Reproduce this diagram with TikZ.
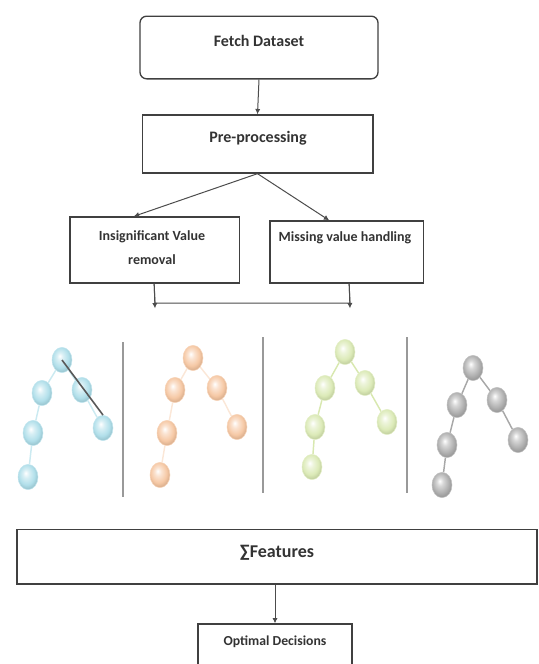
\documentclass[tikz,border=0pt]{standalone}
\usepackage{fontspec}
\setmainfont{Carlito}
\usetikzlibrary{arrows.meta,shapes.geometric,backgrounds}

\definecolor{ballblue}{HTML}{A9DCE8}
\definecolor{ballorange}{HTML}{F5C39C}
\definecolor{ballgreen}{HTML}{D8E8B0}
\definecolor{ballgray}{HTML}{A8A8A8}
\colorlet{ballc}{ballgray}
\pgfdeclareradialshading[ballc]{softball}{\pgfpoint{-6bp}{8bp}}{%
  color(0bp)=(white); color(8bp)=(ballc!45!white); color(20bp)=(ballc!90!white);
  color(30bp)=(ballc!85!black); color(50bp)=(ballc!80!black)}

\tikzset{every picture/.style={line width=0.75pt}}
\tikzset{
  box/.style={draw=black!75, line width=1pt, inner sep=0pt},
  boxtext/.style={inner sep=0.75pt, font=\bfseries\fontsize{12}{14}\selectfont, text=black!80, align=center},
  flow/.style={draw=black!70, -{Latex[length=4pt,width=4pt]}},
  ball/.style={ellipse, minimum width=15pt, minimum height=19pt, inner sep=0pt, draw=#1!70, line width=0.4pt,
    /utils/exec={\colorlet{ballc}{#1}}, shading=softball},
  twig/.style={draw=#1, line width=1.1pt},
  divider/.style={draw=black!40, line width=1.6pt}
}

\begin{document}
\begin{tikzpicture}[x=0.75pt,y=0.75pt,yscale=-1,xscale=1]
\useasboundingbox (0,0) rectangle (539,664);
\clip (0,0) rectangle (539,664);
%Rounded Rect: Fetch Dataset
\node [box, rounded corners=5pt, minimum width=178.5pt, minimum height=47pt] (fetch) at (259,47.5) {};
% Text Node
\node [boxtext] (fetchtxt) at (259,41) {Fetch Dataset};
%Shape: Rectangle Pre-processing
\node [box, minimum width=173pt, minimum height=43.5pt] (prep) at (257.5,144) {};
% Text Node
\node [boxtext] (preptxt) at (258,138) {Pre-processing};
%Shape: Rectangle Insignificant
\node [box, minimum width=127pt, minimum height=49.5pt] (insig) at (154.5,250) {};
% Text Node
\node [boxtext, font=\bfseries\fontsize{10.5}{18.5}\selectfont] (insigtxt) at (152,247.5) {Insignificant Value\\removal};
%Shape: Rectangle Missing
\node [box, minimum width=115pt, minimum height=46.5pt] (missing) at (346.5,252) {};
% Text Node
\node [boxtext, font=\bfseries\fontsize{10.5}{12}\selectfont] (missingtxt) at (345,238) {Missing value handling};
%Shape: Rectangle Features
\node [box, minimum width=390pt, minimum height=41pt] (features) at (277,556.5) {};
% Text Node
\node [boxtext, font=\bfseries\fontsize{13.5}{15}\selectfont] (featurestxt) at (277,553) {∑Features};
%Shape: Rectangle Optimal
\node [box, minimum width=115.5pt, minimum height=45pt] (optimal) at (275,654) {};
% Text Node
\node [boxtext, font=\bfseries\fontsize{10.3}{12}\selectfont] (optimaltxt) at (275,642) {Optimal Decisions};

%Join coordinates
\coordinate (jl) at (155,303);
\coordinate (jr) at (350,303);

%Straight Lines
\draw [flow] (fetch.south) -- (prep.north);
\draw [flow] (prep.south) -- ([xshift=48.5pt]insig.north west);
\draw [flow] (prep.south) -- ([xshift=45pt]missing.north west);
\draw [flow] ([xshift=63.75pt]insig.south west) -- ([yshift=4pt]jl);
\draw [flow] ([xshift=60pt]missing.south west) -- ([yshift=4pt]jr);
\draw [draw=black!70] ([xshift=63.75pt]insig.south west) -- (jl) -- (jr) -- ([xshift=60pt]missing.south west);
\draw [flow] (features.south -| optimal.north) -- (optimal.north);

%Dividers
\draw [divider] (123,342) -- (123,497);
\draw [divider] (263,337) -- (263,493);
\draw [divider] (407,337) -- (407,493);

%Tree: blue
\node [ball=ballblue] (bt) at (62,360) {};
\node [ball=ballblue] (ba) at (42,393) {};
\node [ball=ballblue] (bb) at (82,390) {};
\node [ball=ballblue] (bc) at (33,433) {};
\node [ball=ballblue] (bd) at (103,428) {};
\node [ball=ballblue] (be) at (28,477) {};
\begin{scope}[on background layer]
\draw [twig=ballblue!60] (bt) -- (ba) (ba) -- (bc) (bc) -- (be) (bt) -- (bb) (bb) -- (bd);
\end{scope}
\draw [draw=black!65, line width=1.2pt] (bt.center) -- (bd.north);
%Tree: orange
\node [ball=ballorange] (ot) at (193,358) {};
\node [ball=ballorange] (oa) at (175,390) {};
\node [ball=ballorange] (ob) at (217,388) {};
\node [ball=ballorange] (oc) at (167,433) {};
\node [ball=ballorange] (od) at (237,427) {};
\node [ball=ballorange] (oe) at (160,475) {};
\begin{scope}[on background layer]
\draw [twig=ballorange!40] (ot) -- (oa) (oa) -- (oc) (oc) -- (oe) (ot) -- (ob) (ob) -- (od);
\end{scope}
%Tree: green
\node [ball=ballgreen] (gt) at (345,352) {};
\node [ball=ballgreen] (ga) at (325,388) {};
\node [ball=ballgreen] (gb) at (365,383) {};
\node [ball=ballgreen] (gc) at (315,427) {};
\node [ball=ballgreen] (gd) at (387,422) {};
\node [ball=ballgreen] (ge) at (312,467) {};
\begin{scope}[on background layer]
\draw [twig=ballgreen] (gt) -- (ga) (ga) -- (gc) (gc) -- (ge) (gt) -- (gb) (gb) -- (gd);
\end{scope}
%Tree: gray
\node [ball=ballgray] (kt) at (473,368) {};
\node [ball=ballgray] (ka) at (457,405) {};
\node [ball=ballgray] (kb) at (497,400) {};
\node [ball=ballgray] (kc) at (447,445) {};
\node [ball=ballgray] (kd) at (518,440) {};
\node [ball=ballgray] (ke) at (442,485) {};
\begin{scope}[on background layer]
\draw [twig=ballgray] (kt) -- (ka) (ka) -- (kc) (kc) -- (ke) (kt) -- (kb) (kb) -- (kd);
\end{scope}
\end{tikzpicture}
\end{document}
